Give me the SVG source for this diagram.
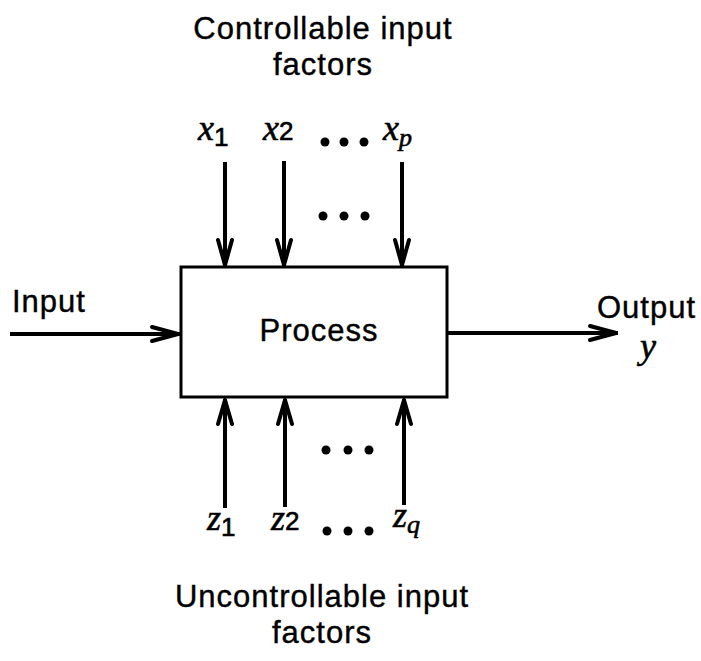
<svg xmlns="http://www.w3.org/2000/svg" width="701" height="661" viewBox="0 0 701 661">
<style>
.t{font-family:"Liberation Sans",Arial,sans-serif;font-size:31px;letter-spacing:1px;fill:#000;stroke:#000;stroke-width:0.4}
.v{font-family:"Liberation Serif","Times New Roman",serif;font-style:italic;font-size:36px;fill:#000;stroke:#000;stroke-width:0.6}
.s{font-family:"Liberation Sans",Arial,sans-serif;font-style:normal;font-size:26px}
.ln{stroke:#000;stroke-width:4;fill:none}
.hd{stroke:#000;stroke-width:4;fill:none;stroke-linecap:round;stroke-linejoin:round}
</style>
<rect width="701" height="661" fill="#fff"/>
<g id="titles">
<text class="t" text-anchor="middle"><tspan x="323" y="39">Controllable input</tspan><tspan x="323" y="75">factors</tspan></text>
<text class="t" text-anchor="middle"><tspan x="322" y="607">Uncontrollable input</tspan><tspan x="322" y="643">factors</tspan></text>
</g>
<g id="process">
<rect x="181" y="267" width="266" height="130" fill="#fff" stroke="#000" stroke-width="3"/>
<text class="t" x="319" y="341" text-anchor="middle">Process</text>
</g>
<g id="input"><text class="t" x="12" y="312">Input</text></g>
<g id="output"><text class="t" x="597" y="318">Output</text><text class="v" x="640" y="358">y</text></g>
<g id="xlabels">
<text class="v" x="198" y="140">x<tspan class="s" dy="6">1</tspan></text>
<text class="v" x="263" y="140">x<tspan class="s" dy="0">2</tspan></text>
<text class="v" x="383" y="140">x<tspan font-size="26" dy="6">p</tspan></text>
<circle cx="325" cy="142" r="4.5"/><circle cx="344" cy="142" r="4.5"/><circle cx="364" cy="142" r="4.5"/>
<circle cx="323" cy="216" r="4.5"/><circle cx="344" cy="216" r="4.5"/><circle cx="365" cy="216" r="4.5"/>
</g>
<g id="zlabels">
<text class="v" x="207" y="530">z<tspan class="s" dy="6">1</tspan></text>
<text class="v" x="271" y="530">z<tspan class="s" dy="0">2</tspan></text>
<text class="v" x="393" y="527">z<tspan font-size="26" dy="6">q</tspan></text>
<circle cx="327" cy="531" r="4.5"/><circle cx="348" cy="531" r="4.5"/><circle cx="369" cy="531" r="4.5"/>
<circle cx="326" cy="450" r="4.5"/><circle cx="348" cy="450" r="4.5"/><circle cx="369" cy="450" r="4.5"/>
</g>
<g id="connectors">
<path class="ln" d="M225 162V266M284 161V266M402 162V266"/>
<path class="hd" d="M218 240L225 265L232 240M277 240L284 265L291 240M395 240L402 265L409 240"/>
<path class="ln" d="M225 399V508M285 399V507M404 399V505"/>
<path class="hd" d="M218 424L225 400L232 424M278 424L285 400L292 424M397 424L404 400L411 424"/>
<path class="ln" d="M10 334H180"/>
<path class="hd" d="M152 327L178 334L152 341"/>
<path class="ln" d="M448 333H618"/>
<path class="hd" d="M590 326L616 333L590 340"/>
</g>
</svg>
